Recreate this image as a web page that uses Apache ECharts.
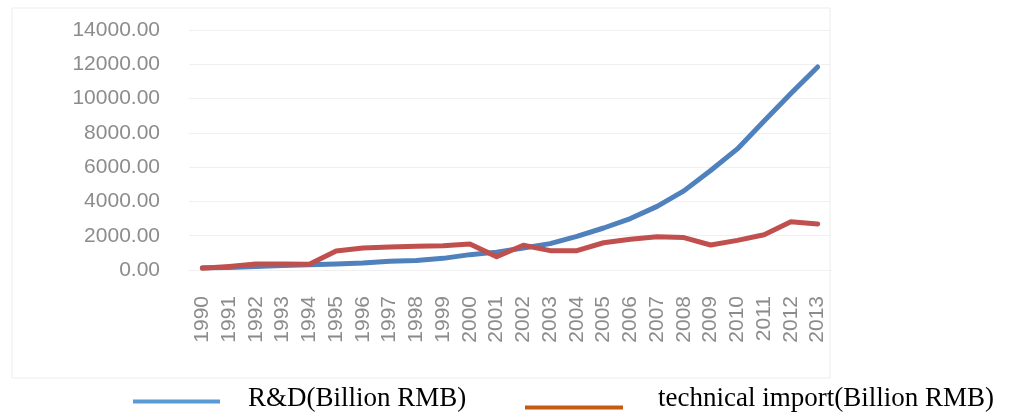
<!DOCTYPE html>
<html>
<head>
<meta charset="utf-8">
<script src="https://cdn.jsdelivr.net/npm/echarts@6/dist/echarts.min.js"></script>
<style>
html,body{margin:0;padding:0;background:#fff;}
#c{width:1011px;height:413px;}
</style>
</head>
<body>
<div id="c"></div>
<script>
var years = ['1990','1991','1992','1993','1994','1995','1996','1997','1998','1999','2000','2001','2002','2003','2004','2005','2006','2007','2008','2009','2010','2011','2012','2013'];
var rdValues = [125, 142, 210, 256, 310, 349, 405, 509, 551, 679, 896, 1043, 1288, 1540, 1966, 2450, 3003, 3710, 4616, 5802, 7063, 8687, 10298, 11847];
var importValues = [100, 210, 350, 350, 330, 1110, 1280, 1340, 1380, 1420, 1520, 780, 1440, 1130, 1130, 1590, 1790, 1940, 1890, 1460, 1730, 2060, 2820, 2680];
var seriesNames = ['R&D(Billion RMB)', 'technical import(Billion RMB)'];
var yTicks = {min: 0, max: 14000, interval: 2000};

var chart = echarts.init(document.getElementById('c'), null, {renderer: 'canvas'});
var axisFont = 'Liberation Sans, Arial, sans-serif';
var legendFont = 'Liberation Serif, Times New Roman, serif';
chart.setOption({
  backgroundColor: '#ffffff',
  animation: false,
  graphic: [{
    type: 'rect',
    shape: {x: 12, y: 8, width: 818, height: 370},
    style: {fill: 'none', stroke: '#EDEDED', lineWidth: 1},
    silent: true,
    z: 0
  }],
  grid: {left: 189, right: 180, top: 30, bottom: 143, containLabel: false},
  legend: [{
    left: 133, top: 385, padding: 0,
    icon: 'rect', itemWidth: 87, itemHeight: 4,
    data: [{name: seriesNames[0], itemStyle: {color: '#5B9BD5'}}],
    formatter: '{t|{name}}',
    textStyle: {
      rich: {t: {fontFamily: legendFont, fontSize: 27, color: '#000', padding: [0, 0, 6, 23]}}
    }
  }, {
    left: 525, top: 385, padding: 0,
    icon: 'rect', itemWidth: 98, itemHeight: 4,
    data: [{name: seriesNames[1], itemStyle: {color: '#C55A11'}}],
    formatter: '{t|{name}}',
    textStyle: {
      rich: {t: {fontFamily: legendFont, fontSize: 27, color: '#000', padding: [0, 0, 18, 30]}}
    }
  }],
  xAxis: {
    type: 'category',
    data: years,
    boundaryGap: true,
    axisLine: {show: true, lineStyle: {color: '#F0F0F0', width: 1}},
    axisTick: {show: false},
    axisLabel: {interval: 0, rotate: 90, margin: 26, color: '#8C8C8C', fontSize: 21, fontFamily: axisFont}
  },
  yAxis: {
    type: 'value',
    min: yTicks.min, max: yTicks.max, interval: yTicks.interval,
    axisLine: {show: false},
    axisTick: {show: false},
    splitLine: {lineStyle: {color: '#F0F0F0', width: 1}},
    axisLabel: {margin: 29, color: '#8C8C8C', fontSize: 21, fontFamily: axisFont,
      formatter: function (v) { return v.toFixed(2); }}
  },
  series: [{
    name: seriesNames[0], type: 'line', data: rdValues,
    symbol: 'none', smooth: false,
    lineStyle: {color: '#4F81BD', width: 5, cap: 'round', join: 'round'},
    itemStyle: {color: '#4F81BD'}, z: 2
  }, {
    name: seriesNames[1], type: 'line', data: importValues,
    symbol: 'none', smooth: false,
    lineStyle: {color: '#C0504D', width: 5, cap: 'round', join: 'round'},
    itemStyle: {color: '#C0504D'}, z: 3
  }]
});
</script>
</body>
</html>
